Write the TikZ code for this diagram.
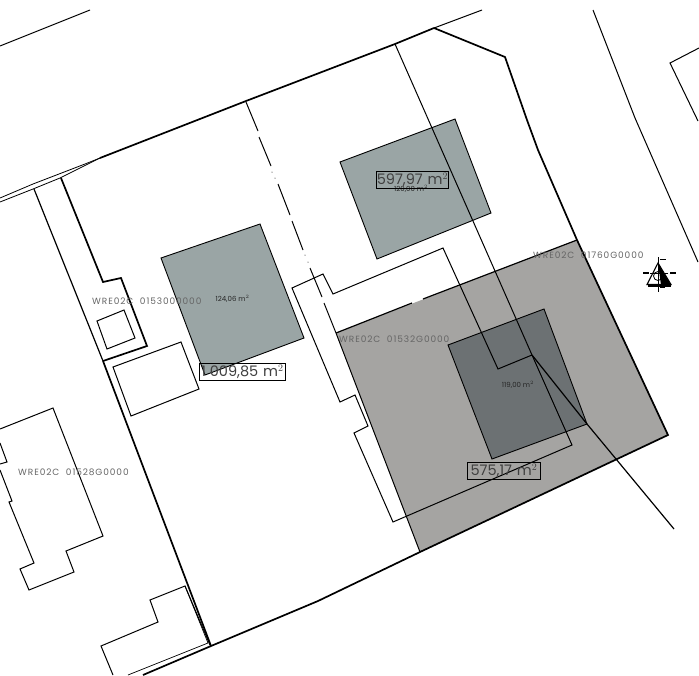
\documentclass[tikz,border=0pt]{standalone}
\usepackage{fontspec}
\setmainfont{Poppins}
\newfontfamily\cadfont[LetterSpace=10]{Poppins}
\definecolor{roofblue}{HTML}{9AA5A5}
\definecolor{roofdark}{HTML}{6C7173}
\definecolor{plotgray}{HTML}{A5A4A2}
\definecolor{cadgray}{HTML}{666666}
\begin{document}
\begin{tikzpicture}[x=1pt,y=-1pt,line join=miter,
	lot/.style={draw=black,line width=1pt},
	bound/.style={draw=black,line width=1.7pt},
	roof/.style={draw=black,line width=0.9pt},
	parcel/.style={font=\cadfont\fontsize{9}{10}\selectfont,text=cadgray,anchor=west,inner sep=0pt},
	area/.style={font=\fontsize{7}{8}\selectfont,text=black!85,inner sep=0pt},
	areabox/.style={draw=black,line width=0.9pt,font=\fontsize{14.5}{16}\selectfont,text=black!75,inner sep=0pt,minimum height=17pt,anchor=west}]
	\useasboundingbox (0,0) rectangle (699,675);
	\fill[white] (0,0) rectangle (699,675);
	% fills
	\fill[plotgray] (336,333) -- (577,240) -- (668,435) -- (420,552) -- cycle;
	\path[roof,fill=roofblue] (340,162) -- (455,119) -- (491,213) -- (377,259) -- cycle;
	\path[roof,fill=roofblue] (161,258) -- (260,224) -- (304,338) -- (205,375) -- cycle;
	\path[roof,fill=roofdark] (448,345) -- (544,309) -- (587,424) -- (492,459) -- cycle;
	% road and boundaries
	\draw[lot] (0,46) -- (90,10);
	\draw[lot,line width=0.8pt] (0,198) -- (33,184) -- (85,164) -- (110,154);
	\draw[lot,line width=0.8pt] (0,202) -- (33,189) -- (60,178) -- (100,158);
	\draw[bound] (100,158) -- (246,101) -- (395,44) -- (434,28);
	\draw[lot] (434,28) -- (482,10);
	\draw[bound] (434,28) -- (505,57) -- (527,120) -- (538,150) -- (577,240) -- (668,435) -- (420,552) -- (318,601) -- (211,646) -- (143,675);
	\draw[bound] (61,178) -- (103,282) -- (121,278) -- (147,346) -- (103,361);
	\draw[lot,line width=1.2pt] (34,189) -- (103,361);
	\draw[bound] (103,361) -- (211,646);
	\draw[lot] (336,333) -- (420,552);
	\draw[lot,line width=1.2pt] (336,333) -- (412,303) (423,299) -- (577,240);
	% middle line with gaps
	\draw[lot] (246,102) -- (258,131) (259,137) -- (271,166) (278,184) -- (290,215)
		(292,221) -- (303,250) (310,268) -- (322,297) (324,303) -- (336,333);
	\fill (272,172) circle (0.5) (275,178) circle (0.5) (305,255) circle (0.5) (308,262) circle (0.5);
	% long line and outbuilding
	\draw[lot] (395,44) -- (532,355);
	\draw[lot,line width=1.2pt] (532,355) -- (587,424) -- (674,529);
	\draw[lot] (532,355) -- (498,369) -- (443,248) -- (333,294) -- (323,274) -- (292,288) -- (340,402) -- (355,395)
		-- (368,426) -- (354,433) -- (393,522) -- (572,445) -- (532,355);
	% small buildings
	\draw[lot] (97,321) -- (124,310) -- (135,338) -- (107,349) -- cycle;
	\draw[lot] (113,367) -- (181,342) -- (199,389) -- (131,416) -- cycle;
	\draw[lot] (0,429) -- (53,408) -- (103,536) -- (66,551) -- (74,572) -- (29,590) -- (20,569) -- (34,563)
		-- (9,502) -- (12,501) -- (0,470);
	\draw[lot] (0,443) -- (7,462) -- (0,464);
	\draw[lot] (113,675) -- (101,646) -- (158,622) -- (150,600) -- (185,586) -- (210,645);
	\draw[lot,line width=0.7pt] (128,675) -- (208,643) -- (185,586);
	% right side
	\draw[lot] (593,10) -- (635,118) -- (698,262);
	\draw[lot] (699,48) -- (670,63) -- (698,121);
	% north sign
	\draw[line width=1.1pt] (647,284.5) -- (658,263) -- (671,284.5) -- cycle;
	\fill (658,263) -- (671,285) -- (661,285) -- cycle;
	\fill (648,285) rectangle (671,286.5);
	\draw[line width=0.9pt] (658.5,257) -- (658.5,292) (650,273) -- (668,273);
	\draw[line width=0.8pt] (658,276) circle (4.5);
	\draw[line width=1.6pt] (660,259.5) -- (666,259.5) (643,273) -- (649,273) (670,273) -- (676,273) (660,287.5) -- (665,287.5);
	% labels
	\node[parcel] (wre1530) at (92,301.5) {WRE02C\ \ 0153000000};
	\node[parcel] (wre1760) at (533,255.5) {WRE02C\ \ 01760G0000};
	\node[parcel] (wre1532) at (339,339.5) {WRE02C\ \ 01532G0000};
	\node[parcel] (wre1528) at (18,472.5) {WRE02C\ \ 01528G0000};
	\node[area] (roof124) at (232.5,299) {124,06 m$^2$};
	\node[area] (roof120) at (411,188.5) {120,00 m$^2$};
	\node[area] (roof119) at (518,384.5) {119,00 m$^2$};
	\node[areabox,minimum width=72pt] (lot597) at (376,180) {597,97\,\,m$^2$};
	\node[areabox,minimum width=86pt] (lot1009) at (199,372) {1 009,85\,\,m$^2$};
	\node[areabox,minimum width=73pt] (lot575) at (467,471) {575,17\,\,m$^2$};
\end{tikzpicture}
\end{document}
